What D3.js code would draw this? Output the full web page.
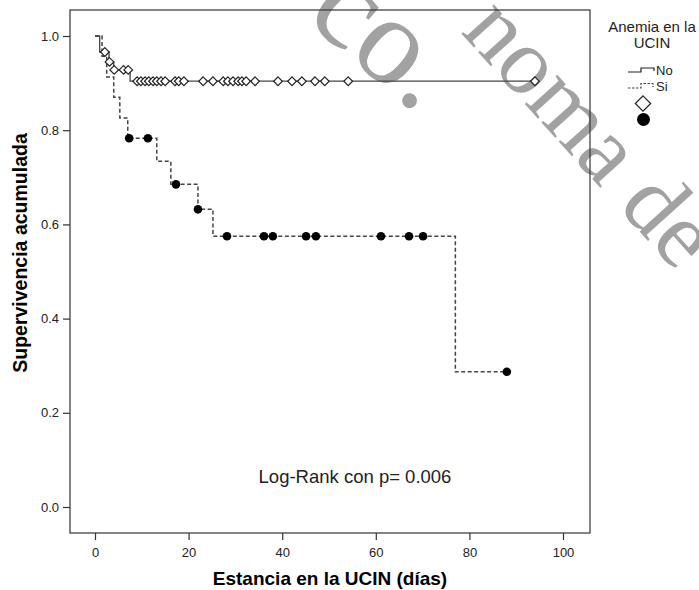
<!DOCTYPE html>
<html>
<head>
<meta charset="utf-8">
<script src="https://cdn.jsdelivr.net/npm/d3@7"></script>
<style>
  body { margin: 0; background: #fff; }
  svg { display: block; font-family: "Liberation Sans", Arial, sans-serif; }
</style>
</head>
<body>
<svg id="chart"></svg>
<script>
// Kaplan-Meier steps
const noStepTimes = [0, 1, 3, 4, 7.5];
const noStepSurv = [1.0, 0.966, 0.945, 0.928, 0.904];
const noEndTime = 94;
const noCensorTimes = [2.1, 3.1, 4.1, 6.1, 7.1, 9.0, 9.8, 10.7, 11.5, 12.4, 13.2, 14.1, 15.0,
    17.1, 17.9, 19.0, 23.1, 25.2, 27.4, 28.4, 29.5, 30.6, 31.4, 32.3, 34.2,
    39.1, 42.1, 44.2, 47.0, 49.1, 54.1, 94.0];

const siStepTimes = [0, 1.5, 2.5, 4, 5.3, 7, 13.2, 16.2, 22, 25.2, 77];
const siStepSurv = [1.0, 0.957, 0.913, 0.870, 0.826, 0.783, 0.734, 0.685, 0.632, 0.575, 0.287];
const siEndTime = 88;
const siCensorTimes = [7.3, 11.3, 17.3, 22, 28.2, 36.1, 38, 45.1, 47.2, 61.1, 67.1, 70.1, 88];

const xTicks = [0, 20, 40, 60, 80, 100];
const yTicks = [0, 0.2, 0.4, 0.6, 0.8, 1.0];

const width = 699, height = 590;
const frame = {left: 70, right: 590, top: 10, bottom: 533};

const svg = d3.select("#chart").attr("width", width).attr("height", height);

const x = d3.scaleLinear().domain([0, 100]).range([95, 563]);
const y = d3.scaleLinear().domain([0, 1]).range([507, 36]);

// watermark behind everything
const wm = svg.append("g")
    .attr("fill", "#a2a2a2")
    .style("font-family", "'Liberation Serif', 'DejaVu Serif', serif");
wm.append("text")
    .style("font-size", "95px")
    .attr("transform", "translate(460,32) rotate(48)")
    .text("noma de");
wm.append("text")
    .style("font-size", "125px")
    .attr("text-anchor", "end")
    .attr("transform", "translate(418,115) rotate(40)")
    .text("co.");

// frame
svg.append("rect")
    .attr("x", frame.left).attr("y", frame.top)
    .attr("width", frame.right - frame.left)
    .attr("height", frame.bottom - frame.top)
    .attr("fill", "none")
    .attr("stroke", "#333")
    .attr("stroke-width", 1.2);

// axes
const xAxis = svg.append("g")
    .attr("transform", `translate(0,${frame.bottom})`)
    .call(d3.axisBottom(x).tickValues(xTicks).tickSize(7).tickPadding(8).tickFormat(d3.format("d")));
const yAxis = svg.append("g")
    .attr("transform", `translate(${frame.left},0)`)
    .call(d3.axisLeft(y).tickValues(yTicks).tickSize(7).tickPadding(4).tickFormat(d3.format(".1f")));
[xAxis, yAxis].forEach(a => {
    a.select(".domain").remove();
    a.selectAll(".tick line").attr("stroke", "#333").attr("stroke-width", 1.2);
    a.selectAll(".tick text").attr("fill", "#222").style("font-size", "13px")
        .style("font-family", "'Liberation Sans', Arial, sans-serif");
});

function stepData(times, surv, endTime) {
    const pts = times.map((t, i) => ({t: t, s: surv[i]}));
    pts.push({t: endTime, s: surv[surv.length - 1]});
    return pts;
}

function survAt(times, surv, t) {
    let s = surv[0];
    for (let i = 0; i < times.length; i++) {
        if (times[i] <= t) s = surv[i];
    }
    return s;
}

const line = d3.line()
    .x(d => x(d.t))
    .y(d => y(d.s))
    .curve(d3.curveStepAfter);

// No curve
svg.append("path")
    .datum(stepData(noStepTimes, noStepSurv, noEndTime))
    .attr("d", line)
    .attr("fill", "none")
    .attr("stroke", "#444")
    .attr("stroke-width", 1.3);

// Si curve
svg.append("path")
    .datum(stepData(siStepTimes, siStepSurv, siEndTime))
    .attr("d", line)
    .attr("fill", "none")
    .attr("stroke", "#444")
    .attr("stroke-width", 1.5)
    .attr("stroke-dasharray", "4,2.5");

const diamond = d3.symbol().type(d3.symbolDiamond2).size(48);

svg.append("g")
    .selectAll("path")
    .data(noCensorTimes)
    .enter().append("path")
    .attr("d", diamond)
    .attr("transform", d => `translate(${x(d)},${y(survAt(noStepTimes, noStepSurv, d))})`)
    .attr("fill", "white")
    .attr("stroke", "#222")
    .attr("stroke-width", 1.2);

svg.append("g")
    .selectAll("circle")
    .data(siCensorTimes)
    .enter().append("circle")
    .attr("cx", d => x(d))
    .attr("cy", d => y(survAt(siStepTimes, siStepSurv, d)))
    .attr("r", 4.3)
    .attr("fill", "black");

// annotation
svg.append("text")
    .attr("x", 355).attr("y", 483)
    .attr("text-anchor", "middle")
    .style("font-size", "18.5px")
    .attr("fill", "#222")
    .text("Log-Rank con p= 0.006");

// axis titles
svg.append("text")
    .attr("x", 330).attr("y", 585)
    .attr("text-anchor", "middle")
    .style("font-size", "19px")
    .style("font-weight", "bold")
    .text("Estancia en la UCIN (días)");

svg.append("text")
    .attr("transform", "translate(27,253) rotate(-90)")
    .attr("text-anchor", "middle")
    .style("font-size", "19.5px")
    .style("font-weight", "bold")
    .text("Supervivencia acumulada");

// legend
const legend = svg.append("g");
legend.append("text").attr("x", 652).attr("y", 32).attr("text-anchor", "middle")
    .style("font-size", "15px").attr("fill", "#222").text("Anemia en la");
legend.append("text").attr("x", 652).attr("y", 48).attr("text-anchor", "middle")
    .style("font-size", "15px").attr("fill", "#222").text("UCIN");

legend.append("path")
    .attr("d", "M628,72H641V68H654V71")
    .attr("fill", "none").attr("stroke", "#222").attr("stroke-width", 1.2);
legend.append("text").attr("x", 656).attr("y", 75)
    .style("font-size", "13px").attr("fill", "#222").text("No");

legend.append("path")
    .attr("d", "M628,88H641V83.5H653V87")
    .attr("fill", "none").attr("stroke", "#444").attr("stroke-width", 1.2)
    .attr("stroke-dasharray", "2.5,1.5");
legend.append("text").attr("x", 656).attr("y", 91)
    .style("font-size", "13px").attr("fill", "#222").text("Si");

legend.append("path")
    .attr("d", d3.symbol().type(d3.symbolDiamond2).size(150))
    .attr("transform", "translate(643,103.5)")
    .attr("fill", "white").attr("stroke", "#222").attr("stroke-width", 1.2);
legend.append("circle")
    .attr("cx", 643.5).attr("cy", 119.5).attr("r", 6.5)
    .attr("fill", "black");
</script>
</body>
</html>
